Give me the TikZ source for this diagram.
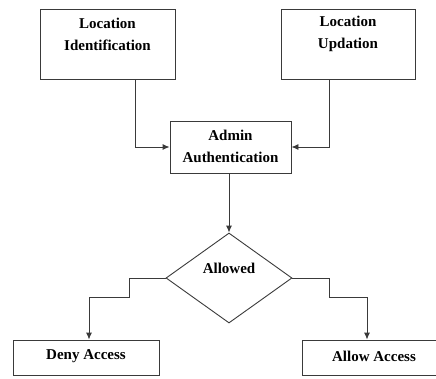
\documentclass[tikz,border=0pt]{standalone}
\usepackage{fontspec}
\setmainfont{Liberation Serif}
\usetikzlibrary{arrows.meta,shapes.geometric}
\definecolor{linec}{HTML}{3A3A3A}
\tikzset{
  x=1pt,y=-1pt,
  box/.style={draw=linec,line width=0.9pt,rectangle,inner sep=0pt},
  txt/.style={font=\bfseries\fontsize{15}{22}\selectfont,align=center,inner sep=0pt,text=black},
  conn/.style={draw=linec,line width=0.9pt,-{Latex[length=7pt,width=6pt]}},
}
\begin{document}
\begin{tikzpicture}
\useasboundingbox (0,0) rectangle (436,378);
% boxes
\node[box,minimum width=135,minimum height=70] (li) at (107.5,44) {};
\node[txt] (lit) at (107.5,34) {Location\\Identification};
\node[box,minimum width=134,minimum height=70] (lu) at (348,44) {};
\node[txt] (lut) at (348,34) {Location\\Updation};
\node[box,minimum width=121,minimum height=52] (aa) at (230.5,147) {};
\node[txt] (aat) at (230.5,146) {Admin\\Authentication};
\node[draw=linec,line width=0.9pt,diamond,minimum width=126,minimum height=90,inner sep=0pt] (al) at (229,278) {};
\node[txt] (alt) at (229,268) {Allowed};
\node[box,minimum width=146,minimum height=35] (da) at (86,357.5) {};
\node[txt] (dat) at (86,356) {Deny Access};
\node[box,minimum width=144,minimum height=35] (ac) at (374,357.5) {};
\node[txt] (act) at (374,356) {Allow Access};
% connectors
\draw[conn] (li.south -| 135,0) |- (aa.west);
\draw[conn] (lu.south -| 329,0) |- (aa.east);
\draw[conn] (aa.south -| al.north) -- (al.north);
\draw[conn] (al.west) -- (al.west -| 129,0) |- (89,297) -- (89,0 |- da.north);
\draw[conn] (al.east) -- (al.east -| 329,0) |- (367,297) -- (367,0 |- ac.north);
\end{tikzpicture}
\end{document}
